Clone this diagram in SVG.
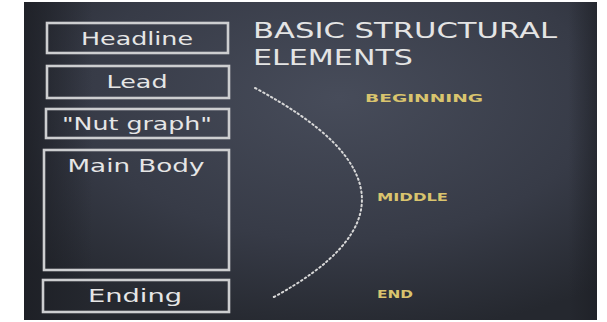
<svg xmlns="http://www.w3.org/2000/svg" width="607" height="322" viewBox="0 0 607 322">
  <defs>
    <radialGradient id="board" cx="0.55" cy="0.3" r="0.75">
      <stop offset="0" stop-color="#474c5a"/>
      <stop offset="0.6" stop-color="#373b47"/>
      <stop offset="1" stop-color="#25282f"/>
    </radialGradient>
    <linearGradient id="edge" x1="0" y1="0" x2="1" y2="0">
      <stop offset="0" stop-color="#1c1e24" stop-opacity="0.8"/>
      <stop offset="0.12" stop-color="#1c1e24" stop-opacity="0"/>
      <stop offset="0.95" stop-color="#1c1e24" stop-opacity="0"/>
      <stop offset="1" stop-color="#1c1e24" stop-opacity="0.6"/>
    </linearGradient>
    <style>
      .box { fill: none; stroke: #cdced0; stroke-width: 2.6; }
      .lbl { font-family: "DejaVu Sans", "Liberation Sans", sans-serif; font-size: 17px; fill: #e6e6e6; text-anchor: middle; }
      .title { font-family: "DejaVu Sans", "Liberation Sans", sans-serif; font-size: 21px; fill: #e4e4e4; }
      .part { font-family: "DejaVu Sans", "Liberation Sans", sans-serif; font-size: 11px; font-weight: bold; fill: #d9c46e; }
      .curve { fill: none; stroke: #d8d8d8; stroke-width: 2; stroke-dasharray: 1.5 3; stroke-linecap: round; }
    </style>
  </defs>
  <rect x="0" y="0" width="607" height="322" fill="#ffffff"/>
  <rect x="24" y="2" width="573" height="318" fill="url(#board)"/>
  <rect x="24" y="2" width="573" height="318" fill="url(#edge)"/>

  <g id="headline">
    <rect class="box" x="47" y="23" width="181" height="30"/>
    <text class="lbl" x="137" y="45" textLength="112" lengthAdjust="spacingAndGlyphs">Headline</text>
  </g>
  <g id="lead">
    <rect class="box" x="47" y="66" width="182" height="32"/>
    <text class="lbl" x="137" y="88" textLength="61" lengthAdjust="spacingAndGlyphs">Lead</text>
  </g>
  <g id="nut-graph">
    <rect class="box" x="46" y="109" width="183" height="29"/>
    <text class="lbl" x="137" y="130" textLength="150" lengthAdjust="spacingAndGlyphs">"Nut graph"</text>
  </g>
  <g id="main-body">
    <rect class="box" x="44" y="150" width="185" height="120"/>
    <text class="lbl" x="136" y="172" textLength="137" lengthAdjust="spacingAndGlyphs">Main Body</text>
  </g>
  <g id="ending">
    <rect class="box" x="43" y="280" width="186" height="32"/>
    <text class="lbl" x="135" y="302" textLength="94" lengthAdjust="spacingAndGlyphs">Ending</text>
  </g>

  <g id="title">
    <text class="title" x="253" y="38" textLength="304" lengthAdjust="spacingAndGlyphs">BASIC STRUCTURAL</text>
    <text class="title" x="253" y="65" textLength="160" lengthAdjust="spacingAndGlyphs">ELEMENTS</text>
  </g>

  <g id="connectors">
    <path class="curve" d="M255,88 Q460,197 272,298"/>
  </g>

  <g id="beginning">
    <text class="part" x="365" y="102" textLength="118" lengthAdjust="spacingAndGlyphs">BEGINNING</text>
  </g>
  <g id="middle">
    <text class="part" x="377" y="201" textLength="71" lengthAdjust="spacingAndGlyphs">MIDDLE</text>
  </g>
  <g id="end">
    <text class="part" x="377" y="298" textLength="36" lengthAdjust="spacingAndGlyphs">END</text>
  </g>
</svg>
